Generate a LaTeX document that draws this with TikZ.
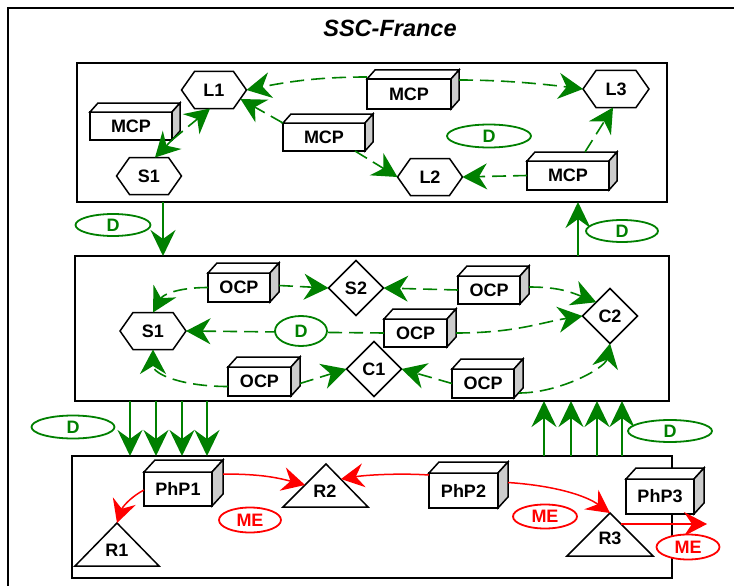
\documentclass[tikz,border=0pt]{standalone}
\usepackage{fontspec}
\setmainfont{Liberation Sans}
\usetikzlibrary{arrows.meta,shapes.geometric}
\definecolor{dgreen}{RGB}{0,128,0}
\definecolor{sidegray}{RGB}{204,204,204}
\definecolor{myred}{RGB}{255,0,0}
\newcommand{\labfont}{\bfseries\fontsize{18}{20}\selectfont}
\newcommand{\cubef}[3]{%
  \draw[nodeline,fill=white] (#1.north west) -- ([shift={(#2,#3)}]#1.north west) -- ([shift={(#2,#3)}]#1.north east) -- (#1.north east) -- cycle;
  \draw[nodeline,fill=sidegray] (#1.north east) -- ([shift={(#2,#3)}]#1.north east) -- ([shift={(#2,#3)}]#1.south east) -- (#1.south east) -- cycle;}
\newcommand{\hexd}[1]{%
  \draw[nodeline,fill=white] (#1.west) -- ([xshift=13pt]#1.north west) -- ([xshift=-13pt]#1.north east) -- (#1.east) -- ([xshift=-13pt]#1.south east) -- ([xshift=13pt]#1.south west) -- cycle;}
\begin{document}
\begin{tikzpicture}[x=1pt,y=-1pt,
  nodeline/.style={draw=black,line width=1.5pt,line join=miter},
  box/.style={draw=black,line width=1.8pt,inner sep=0pt,outer sep=0pt},
  cube/.style={draw=black,line width=1.5pt,fill=white,inner sep=0pt,outer sep=0pt,font=\labfont},
  hexn/.style={inner sep=0pt,outer sep=0pt,minimum width=65pt,minimum height=37pt,font=\labfont},
  dia/.style={diamond,draw=black,line width=1.5pt,fill=white,inner sep=0pt,outer sep=0pt,minimum width=55pt,minimum height=55pt,font=\labfont},
  gdash/.style={dgreen,line width=1.6pt,dash pattern=on 14pt off 7pt,-{Stealth[length=24.5pt,width=26pt,inset=8pt]}},
  gsolid/.style={dgreen,line width=2pt,-{Stealth[length=26pt,width=25pt,inset=9pt]}},
  rarrow/.style={myred,line width=1.5pt,-{Stealth[length=23pt,width=24pt,inset=8pt]}},
  gell/.style={ellipse,draw=dgreen,line width=1.8pt,fill=white,text=dgreen,font=\labfont,inner sep=0pt},
  rell/.style={ellipse,draw=myred,line width=1.8pt,fill=white,text=myred,font=\labfont,inner sep=0pt},
  trilab/.style={inner sep=0pt,font=\labfont}
]
\useasboundingbox (0,0) rectangle (734,586);
\fill[white] (0,0) rectangle (734,586);
% outer frame
\draw[line width=2pt] (8,586) -- (8,8) -- (734,8);
\node[font=\bfseries\itshape\fontsize{23.5}{26}\selectfont] (title) at (390,28) {SSC-France};

% boxes
\node[box,minimum width=590pt,minimum height=139pt] (topbox) at (372,132.5) {};
\node[box,minimum width=594pt,minimum height=145pt] (midbox) at (372,328.5) {};
\node[box,minimum width=600pt,minimum height=122pt] (botbox) at (372,517) {};

% ---------- top box ----------
\node[hexn] (L1) at (214,90) {L1}; \hexd{L1} \node[hexn] at (L1) {L1};
\node[hexn] (S1a) at (149,176) {S1}; \hexd{S1a} \node[hexn] at (S1a) {S1};
\node[hexn] (L2) at (430,177) {L2}; \hexd{L2} \node[hexn] at (L2) {L2};
\node[hexn,minimum width=66pt] (L3) at (616,89) {L3}; \hexd{L3} \node[hexn] at (L3) {L3};

\node[cube,minimum width=82pt,minimum height=28pt] (mcpA) at (131,126) {MCP}; \cubef{mcpA}{8}{-9}
\node[cube,minimum width=82pt,minimum height=28pt] (mcpB) at (324,137) {MCP}; \cubef{mcpB}{8}{-9}
\node[cube,minimum width=84pt,minimum height=30pt] (mcpC) at (409,94) {MCP}; \cubef{mcpC}{8}{-9}
\node[cube,minimum width=82pt,minimum height=29pt] (mcpD) at (568,175.5) {MCP}; \cubef{mcpD}{8}{-9}

\node[gell,minimum width=84pt,minimum height=23pt] (Dtop) at (489,136) {D};

\draw[gdash] ([yshift=2pt]mcpC.north west) .. controls +(-50,0) and +(40,-8) .. (L1.east);
\draw[gdash] ([shift={(8,1)}]mcpC.north east) .. controls +(45,0) and +(-40,-5) .. (L3.west);
\draw[gdash] (mcpB.north west) -- ([xshift=-6pt,yshift=-9pt]L1.east);
\draw[gdash] ([xshift=-10pt]mcpB.south east) -- (L2.west);
\draw[gdash] (mcpA.south east) -- ([xshift=-4pt]L1.south);
\draw[gdash] (mcpA.south east) -- ([xshift=6pt]S1a.north);
\draw[gdash] (mcpD.west) -- (L2.east);
\draw[gdash] ([shift={(58,-9)}]mcpD.north west) -- ([xshift=-3pt]L3.south);

% ---------- between top and middle ----------
\draw[gsolid] ([xshift=86pt]topbox.south west) -- ([xshift=88pt]midbox.north west);
\draw[gsolid] ([xshift=503pt]midbox.north west) -- ([xshift=501pt]topbox.south west);
\node[gell,minimum width=75pt,minimum height=22pt] (Dtl) at (113,225) {D};
\node[gell,minimum width=72pt,minimum height=22pt] (Dtr) at (622,231) {D};

% ---------- middle box ----------
\node[hexn,minimum width=66pt] (S1b) at (153,331) {S1}; \hexd{S1b} \node[hexn] at (S1b) {S1};
\node[dia] (S2) at (356,288) {S2};
\node[dia] (C1) at (374,369) {C1};
\node[dia] (C2) at (610,316) {C2};
\node[cube,minimum width=62pt,minimum height=29pt] (ocpA) at (239,287.5) {OCP}; \cubef{ocpA}{9}{-10}
\node[cube,minimum width=62pt,minimum height=28pt] (ocpB) at (489,290) {OCP}; \cubef{ocpB}{9}{-10}
\node[cube,minimum width=63pt,minimum height=28pt] (ocpC) at (415.5,333) {OCP}; \cubef{ocpC}{9}{-10}
\node[cube,minimum width=63pt,minimum height=29pt] (ocpD) at (259.5,381.5) {OCP}; \cubef{ocpD}{9}{-10}
\node[cube,minimum width=62pt,minimum height=29pt] (ocpE) at (483,383.5) {OCP}; \cubef{ocpE}{9}{-10}

\draw[gdash] (ocpA.west) .. controls +(-30,0) and +(10,-18) .. (S1b.north);
\draw[gdash] ([shift={(9,-2)}]ocpA.east) -- (S2.west);
\draw[gdash] (ocpB.west) -- (S2.east);
\draw[gdash] ([shift={(9,-3)}]ocpB.east) .. controls +(30,0) and +(-25,-10) .. (C2.north west);
\draw[gdash] ([xshift=9pt]ocpC.east) .. controls +(60,0) and +(-40,6) .. (C2.west);
\draw[gdash] (ocpC.west) -- (S1b.east);
\node[gell,minimum width=52pt,minimum height=30pt] (Dmid) at (301,331) {D};
\draw[gdash] ([yshift=-5pt]ocpD.west) .. controls +(-45,0) and +(0,25) .. (S1b.south);
\draw[gdash] ([shift={(9,2)}]ocpD.east) -- (C1.west);
\draw[gdash] (ocpE.west) -- (C1.east);
\draw[gdash] ([shift={(5,-5)}]ocpE.south east) .. controls +(40,0) and +(-5,25) .. (C2.south);

% ---------- between middle and bottom ----------
\foreach \a/\b in {55/58,81/84,107/110,132/135}
  \draw[gsolid] ([xshift=\a pt]midbox.south west) -- ([xshift=\b pt]botbox.north west);
\foreach \a/\b in {472/469,499/496,525/522,550/547}
  \draw[gsolid] ([xshift=\a pt]botbox.north west) -- ([xshift=\b pt]midbox.south west);
\node[gell,minimum width=83pt,minimum height=23pt] (Dbl) at (73,427) {D};
\node[gell,minimum width=84pt,minimum height=22pt] (Dbr) at (670,431) {D};

% ---------- bottom box ----------
\coordinate (R1top) at (117,523);
\coordinate (R2top) at (326,464);
\coordinate (R3top) at (610,513);
\draw[nodeline,fill=white] (R1top) -- (159,566) -- (75,566) -- cycle;
\draw[nodeline,fill=white] (R2top) -- (368,507) -- (283,507) -- cycle;
\draw[nodeline,fill=white] (R3top) -- (653,556) -- (567,556) -- cycle;
\node[trilab] (R1) at (117,550) {R1};
\node[trilab] (R2) at (325,491) {R2};
\node[trilab] (R3) at (610,538) {R3};
\coordinate (R2l) at (305,485);
\coordinate (R2r) at (341,479);
\coordinate (R3r) at (621,524);
\coordinate (R3out) at (707,524);

\node[cube,minimum width=68pt,minimum height=34pt] (PhP1) at (178,489) {PhP1}; \cubef{PhP1}{11}{-12}
\node[cube,minimum width=69pt,minimum height=35pt] (PhP2) at (463.5,490.5) {PhP2}; \cubef{PhP2}{10}{-11}
\node[cube,minimum width=68pt,minimum height=35pt] (PhP3) at (660,496.5) {PhP3}; \cubef{PhP3}{10}{-11}

\draw[rarrow] ([yshift=-1pt]PhP1.west) .. controls +(-15,8) and +(5,-15) .. (R1top);
\draw[rarrow] ([shift={(11,2)}]PhP1.north east) .. controls +(35,0) and +(-30,-8) .. (R2l);
\draw[rarrow] ([shift={(0,2)}]PhP2.north west) .. controls +(-30,-2) and +(25,-4) .. (R2r);
\draw[rarrow] ([shift={(10,-8)}]PhP2.east) .. controls +(45,3) and +(-25,-18) .. (R3top);
\draw[rarrow] (R3r) -- (R3out);

\node[rell,minimum width=62pt,minimum height=25pt] (ME1) at (250,520) {ME};
\node[rell,minimum width=64pt,minimum height=24pt] (ME2) at (545,516.5) {ME};
\node[rell,minimum width=63pt,minimum height=25pt] (ME3) at (688,547) {ME};
\end{tikzpicture}
\end{document}
